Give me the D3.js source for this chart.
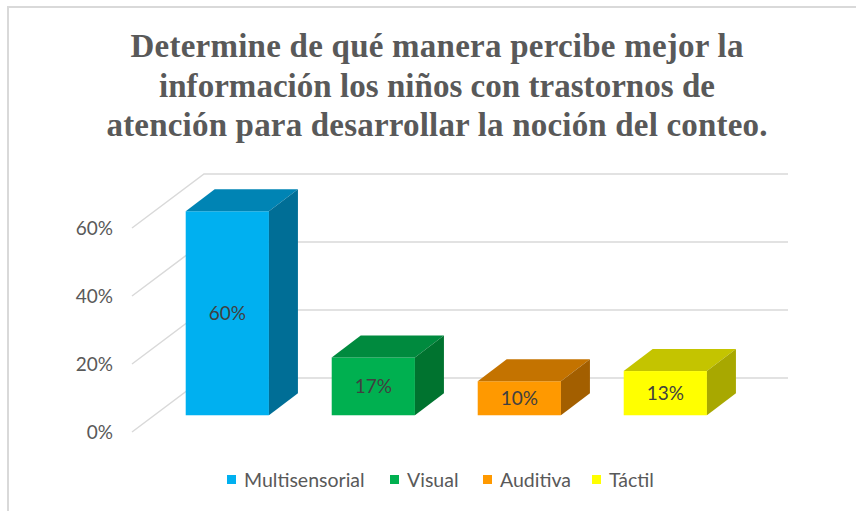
<!DOCTYPE html>
<html>
<head>
<meta charset="utf-8">
<script src="https://cdn.jsdelivr.net/npm/d3@7"></script>
<style>
  body{margin:0;background:#fff;}
  svg{display:block;}
</style>
</head>
<body>
<script>
var width=856,height=511;

// data
var categories=["Multisensorial","Visual","Auditiva","Táctil"];
var values=[0.60,0.17,0.10,0.13];
var labels=["60%","17%","10%","13%"];
var yTicks=[0,0.2,0.4,0.6];
var titleLines=["Determine de qué manera percibe mejor la",
                "información los niños con trastornos de",
                "atención para desarrollar la noción del conteo."];
var titleWidths=[613,556,661];
var frontColors=["#00B0F0","#00B050","#FF9900","#FFFF00"];
var topColors=["#0084B4","#008A3E","#C47300","#C4C400"];
var sideColors=["#006E96","#00732F","#A35F00","#A8A800"];

// 3d depth of the floor and of the bars
var depthX=72,depthY=-54;
var barFront=0.31,barDepthX=29,barDepthY=-22;
var lblFont="'Lato'";

var svg=d3.select("body").append("svg")
          .attr("width",width)
          .attr("height",height);

// chart area border (only left and top show)
svg.append("path")
   .attr("d","M8,"+height+"V7H"+width)
   .attr("fill","none")
   .attr("stroke","#d9d9d9")
   .attr("stroke-width",2);

// title
svg.append("g").selectAll("text")
   .data(titleLines)
   .enter()
   .append("text")
   .attr("x",437)
   .attr("y",function(d,i){return 57+i*39.5;})
   .attr("text-anchor","middle")
   .attr("textLength",function(d,i){return titleWidths[i];})
   .attr("lengthAdjust","spacing")
   .style("font-family","'Liberation Serif'")
   .style("font-weight","bold")
   .style("font-size","33px")
   .attr("fill","#595959")
   .text(function(d){return d;});

var x=d3.scaleBand()
        .domain(categories)
        .range([132,716])
        .paddingInner(0.43)
        .paddingOuter(0.215);
var y=d3.scaleLinear()
        .domain([0,0.6])
        .range([432,228]);

// gridlines: diagonal on the left floor edge + back wall line
var grid=svg.append("g")
            .attr("stroke","#d9d9d9")
            .attr("stroke-width",1.5)
            .attr("fill","none");
yTicks.forEach(function(t){
    var x0=x.range()[0],x1=x.range()[1];
    grid.append("path")
        .attr("d","M"+x0+","+y(t)+"L"+(x0+depthX)+","+(y(t)+depthY)+"H"+(x1+depthX));
});

// y axis labels
svg.append("g").selectAll("text")
   .data(yTicks)
   .enter()
   .append("text")
   .attr("x",113)
   .attr("y",function(d){return y(d);})
   .attr("dy","0.35em")
   .attr("text-anchor","end")
   .style("font-family",lblFont)
   .style("font-size","19px")
   .attr("fill","#595959")
   .text(function(d){return d3.format(".0%")(d);});

// bars
var offX=depthX*barFront,offY=depthY*barFront;
var bars=svg.append("g").selectAll("g")
            .data(values)
            .enter()
            .append("g");
bars.append("rect")
    .attr("x",function(d,i){return x(categories[i])+offX;})
    .attr("y",function(d){return y(d)+offY;})
    .attr("width",x.bandwidth())
    .attr("height",function(d){return y(0)-y(d);})
    .attr("fill",function(d,i){return frontColors[i];});
bars.append("path")
    .attr("d",function(d,i){
        var x0=x(categories[i])+offX,x1=x0+x.bandwidth(),yt=y(d)+offY;
        return "M"+x0+","+yt+"L"+(x0+barDepthX)+","+(yt+barDepthY)+"H"+(x1+barDepthX)+"L"+x1+","+yt+"Z";
    })
    .attr("fill",function(d,i){return topColors[i];});
bars.append("path")
    .attr("d",function(d,i){
        var x1=x(categories[i])+offX+x.bandwidth(),yt=y(d)+offY,yb=y(0)+offY;
        return "M"+x1+","+yt+"L"+(x1+barDepthX)+","+(yt+barDepthY)+"V"+(yb+barDepthY)+"L"+x1+","+yb+"Z";
    })
    .attr("fill",function(d,i){return sideColors[i];});
bars.append("text")
    .attr("x",function(d,i){return x(categories[i])+offX+x.bandwidth()/2;})
    .attr("y",function(d){return (y(d)+y(0))/2+offY;})
    .attr("dy","0.35em")
    .attr("text-anchor","middle")
    .style("font-family",lblFont)
    .style("font-size","19px")
    .attr("fill","#404040")
    .text(function(d,i){return labels[i];});

// legend
var legendX=[227,390,483,592];
var legend=svg.append("g").selectAll("g")
              .data(categories)
              .enter()
              .append("g")
              .attr("transform",function(d,i){return "translate("+legendX[i]+",480)";});
legend.append("rect")
      .attr("x",0)
      .attr("y",-5)
      .attr("width",9)
      .attr("height",9)
      .attr("fill",function(d,i){return frontColors[i];});
legend.append("text")
      .attr("x",17)
      .attr("y",0)
      .attr("dy","0.35em")
      .style("font-family",lblFont)
      .style("font-size","19.5px")
      .attr("fill","#595959")
      .text(function(d){return d;});
</script>
</body>
</html>
